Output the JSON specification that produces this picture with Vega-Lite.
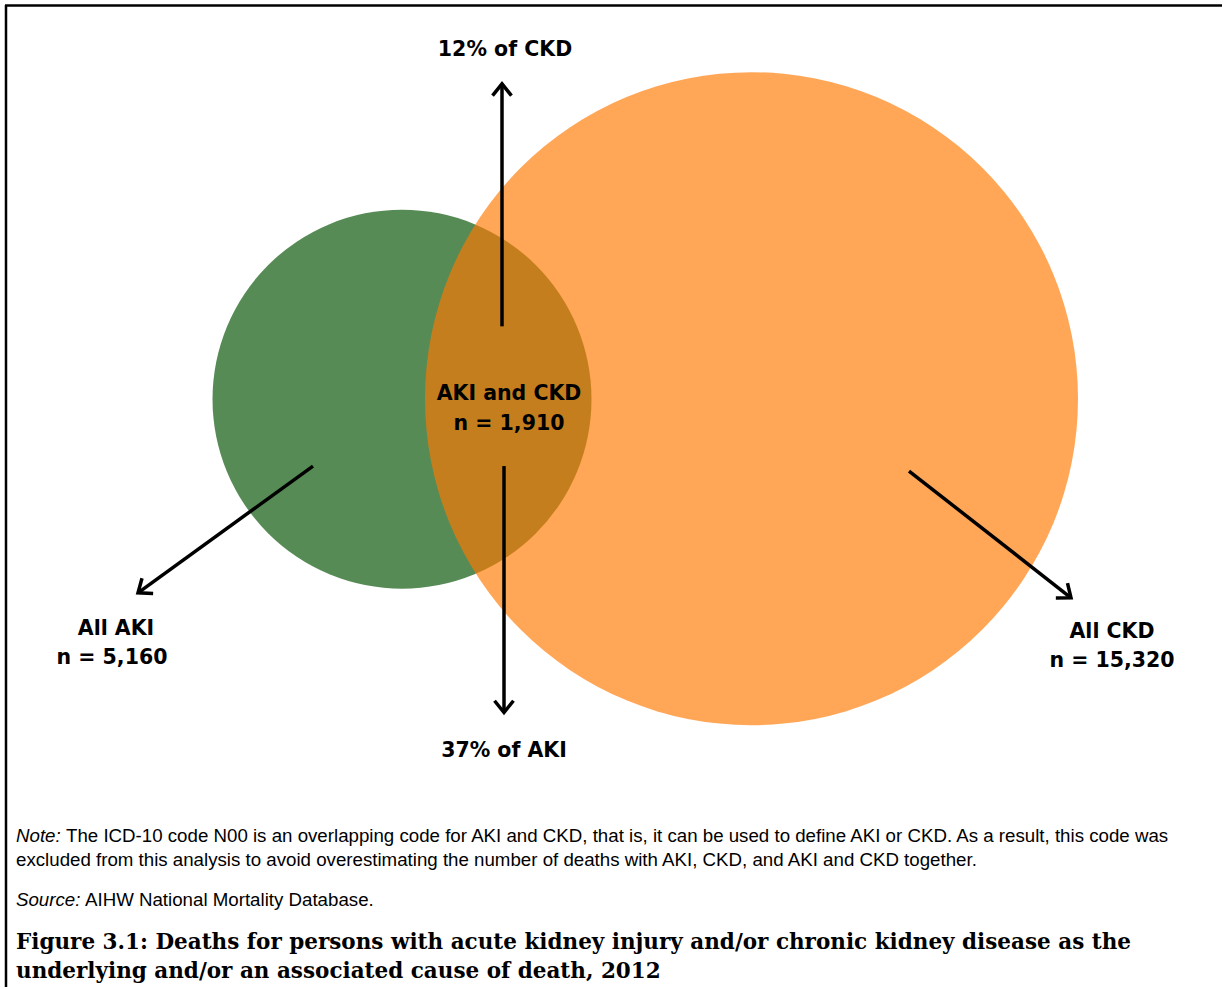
{
  "$schema": "https://vega.github.io/schema/vega-lite/v6.json",
  "width": 1229,
  "height": 989,
  "autosize": {"type": "fit", "contains": "padding"},
  "padding": 0,
  "background": "white",
  "config": {"view": {"stroke": null}},
  "datasets": {
    "frame": [
      {"x": 5, "y": 5.5, "x2": 1222, "y2": 5.5},
      {"x": 6, "y": 5, "x2": 6, "y2": 989}
    ],
    "sets": [
      {"set": "AKI", "n": 5160, "cx": 402, "cy": 400},
      {"set": "CKD", "n": 15320, "cx": 751.5, "cy": 399.5}
    ],
    "arrows": [
      {"label": "12% of CKD", "x": 502, "y": 327, "x2": 502, "y2": 84, "dir": 0},
      {"label": "37% of AKI", "x": 504, "y": 467, "x2": 504, "y2": 714, "dir": 180},
      {"label": "All AKI", "x": 313, "y": 467, "x2": 138, "y2": 594, "dir": 234},
      {"label": "All CKD", "x": 909, "y": 472, "x2": 1071, "y2": 599, "dir": 128}
    ],
    "labels": [
      {"text": "12% of CKD", "x": 505, "y": 48},
      {"text": "37% of AKI", "x": 504, "y": 751},
      {"text": "AKI and CKD", "x": 509, "y": 393},
      {"text": "n = 1,910", "x": 509, "y": 423},
      {"text": "All AKI", "x": 116, "y": 628},
      {"text": "n = 5,160", "x": 112, "y": 657},
      {"text": "All CKD", "x": 1112, "y": 631},
      {"text": "n = 15,320", "x": 1112, "y": 660}
    ],
    "italic": [
      {"text": "Note:", "x": 16, "y": 836},
      {"text": "Source:", "x": 16, "y": 900}
    ],
    "notes": [
      {"text": "The ICD-10 code N00 is an overlapping code for AKI and CKD, that is, it can be used to define AKI or CKD. As a result, this code was", "x": 66, "y": 836},
      {"text": "excluded from this analysis to avoid overestimating the number of deaths with AKI, CKD, and AKI and CKD together.", "x": 16, "y": 860},
      {"text": "AIHW National Mortality Database.", "x": 85, "y": 900}
    ],
    "caption": [
      {"text": "Figure 3.1: Deaths for persons with acute kidney injury and/or chronic kidney disease as the", "x": 16, "y": 943},
      {"text": "underlying and/or an associated cause of death, 2012", "x": 16, "y": 972}
    ]
  },
  "encoding": {
    "x": {"field": "x", "type": "quantitative", "scale": {"domain": [0, 1229], "nice": false, "zero": false}, "axis": null},
    "y": {"field": "y", "type": "quantitative", "scale": {"domain": [0, 989], "nice": false, "zero": false, "reverse": true}, "axis": null}
  },
  "layer": [
    {
      "data": {"name": "frame"},
      "mark": {"type": "rule", "color": "black", "strokeWidth": 2.5},
      "encoding": {"x2": {"field": "x2"}, "y2": {"field": "y2"}}
    },
    {
      "data": {"name": "sets"},
      "mark": {"type": "point", "shape": "circle", "filled": true, "strokeWidth": 0},
      "encoding": {
        "x": {"field": "cx", "type": "quantitative"},
        "y": {"field": "cy", "type": "quantitative"},
        "size": {"field": "n", "type": "quantitative", "scale": {"type": "linear", "domain": [0, 15320], "range": [0, 426409]}, "legend": null},
        "color": {"field": "set", "type": "nominal", "scale": {"domain": ["AKI", "CKD"], "range": ["#578B55", "#FF7800"]}, "legend": null},
        "opacity": {"field": "set", "type": "nominal", "scale": {"domain": ["AKI", "CKD"], "range": [1, 0.66]}, "legend": null}
      }
    },
    {
      "data": {"name": "arrows"},
      "mark": {"type": "rule", "color": "black", "strokeWidth": 3.5},
      "encoding": {"x2": {"field": "x2"}, "y2": {"field": "y2"}}
    },
    {
      "data": {"name": "arrows"},
      "mark": {"type": "point", "shape": "M-0.8,1L0,0L0.8,1", "filled": false, "stroke": "black", "strokeWidth": 3.5, "size": 560, "opacity": 1},
      "encoding": {
        "x": {"field": "x2", "type": "quantitative"},
        "y": {"field": "y2", "type": "quantitative"},
        "angle": {"field": "dir", "type": "quantitative", "scale": null}
      }
    },
    {
      "data": {"name": "labels"},
      "mark": {"type": "text", "font": "DejaVu Sans", "fontWeight": "bold", "fontSize": 20.5, "align": "center", "baseline": "middle", "dy": 2, "color": "black"},
      "encoding": {"text": {"field": "text"}}
    },
    {
      "data": {"name": "italic"},
      "mark": {"type": "text", "font": "Liberation Sans", "fontStyle": "italic", "fontSize": 18.7, "align": "left", "baseline": "middle", "dy": 2, "color": "black"},
      "encoding": {"text": {"field": "text"}}
    },
    {
      "data": {"name": "notes"},
      "mark": {"type": "text", "font": "Liberation Sans", "fontSize": 18.7, "align": "left", "baseline": "middle", "dy": 2, "color": "black"},
      "encoding": {"text": {"field": "text"}}
    },
    {
      "data": {"name": "caption"},
      "mark": {"type": "text", "font": "DejaVu Serif", "fontWeight": "bold", "fontSize": 21.5, "align": "left", "baseline": "middle", "dy": 2, "color": "black"},
      "encoding": {"text": {"field": "text"}}
    }
  ]
}
